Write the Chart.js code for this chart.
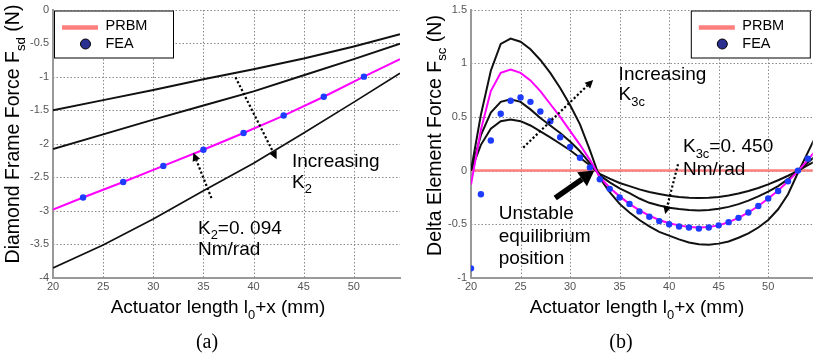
<!DOCTYPE html>
<html>
<head>
<meta charset="utf-8">
<script src="https://cdn.jsdelivr.net/npm/chart.js@4.4.1/dist/chart.umd.min.js"></script>
<style>
  html, body { margin: 0; padding: 0; background: #fff; }
  body { width: 816px; height: 359px; position: relative; overflow: hidden; }
  .panel { position: absolute; top: 0; width: 408px; height: 359px; }
  #panelA { left: 0; }
  #panelB { left: 408px; }
</style>
</head>
<body>
<div class="panel" id="panelA"><canvas id="chartA" width="408" height="359"></canvas></div>
<div class="panel" id="panelB"><canvas id="chartB" width="408" height="359"></canvas></div>
<script>
// (a) diamond frame force F_sd against actuator length, one line per K2
const lenA = [20, 25, 30, 35, 40, 45, 50, 54.6];
const fsdSoft = [-1.50, -1.35, -1.20, -1.04, -0.89, -0.73, -0.55, -0.37];
const fsdMid = [-2.08, -1.86, -1.64, -1.43, -1.22, -0.98, -0.74, -0.51];
const fsdStiff = [-3.85, -3.51, -3.12, -2.70, -2.29, -1.84, -1.38, -0.95];
const lenPrbmA = [20, 23, 27, 31, 35, 39, 43, 47, 51, 54.6];
const fsdPrbm = [-2.98, -2.80, -2.57, -2.33, -2.09, -1.84, -1.58, -1.30, -1.00, -0.74];
const lenFeaA = [23, 27, 31, 35, 39, 43, 47, 51];
const fsdFea = [-2.80, -2.57, -2.33, -2.09, -1.84, -1.58, -1.30, -1.00];
const xTicksA = [20, 25, 30, 35, 40, 45, 50];
const yTicksA = [0, -0.5, -1, -1.5, -2, -2.5, -3, -3.5, -4];

// (b) delta element force F_sc against actuator length, one curve per K3c
const lenB = [20, 21, 22, 23, 24, 25, 26, 27, 28, 29, 30, 31, 32, 33, 34, 35, 36, 37,
              38, 39, 40, 41, 42, 43, 44, 45, 46, 47, 48, 49, 50, 51, 52, 53, 54, 55];
const fscSoft = [0, 0.24, 0.39, 0.46, 0.475, 0.46, 0.42, 0.365, 0.31, 0.25, 0.19, 0.12, 0.05,
                 -0.03, -0.075, -0.115, -0.145, -0.175, -0.2, -0.218, -0.235, -0.245, -0.252, -0.255,
                 -0.252, -0.245, -0.232, -0.214, -0.19, -0.162, -0.128, -0.09, -0.048, -0.003, 0.05, 0.10];
const fscMid = [0, 0.33, 0.54, 0.64, 0.665, 0.64, 0.57, 0.49, 0.42, 0.35, 0.27, 0.18, 0.07,
                -0.045, -0.11, -0.165, -0.21, -0.26, -0.30, -0.325, -0.345, -0.357, -0.366, -0.371,
                -0.366, -0.356, -0.338, -0.312, -0.28, -0.24, -0.195, -0.145, -0.08, -0.005, 0.075, 0.155];
const fscPrbm = [-0.13, 0.38, 0.74, 0.91, 0.94, 0.91, 0.84, 0.74, 0.62, 0.50, 0.37, 0.24, 0.10,
                 -0.06, -0.16, -0.24, -0.31, -0.37, -0.42, -0.46, -0.49, -0.51, -0.525, -0.53,
                 -0.525, -0.51, -0.48, -0.44, -0.39, -0.33, -0.26, -0.185, -0.10, -0.005, 0.10, 0.21];
const fscStiff = [0, 0.52, 0.93, 1.18, 1.23, 1.20, 1.13, 1.03, 0.91, 0.77, 0.61, 0.43, 0.19,
                  -0.07, -0.20, -0.31, -0.39, -0.46, -0.52, -0.57, -0.605, -0.64, -0.67, -0.685,
                  -0.69, -0.68, -0.66, -0.625, -0.585, -0.53, -0.46, -0.36, -0.22, -0.02, 0.17, 0.36];
const lenFeaB = [20, 21, 22, 23, 24, 25, 26, 27, 28, 29, 30, 31, 32, 33, 34, 35, 36, 37,
                 38, 39, 40, 41, 42, 43, 44, 45, 46, 47, 48, 49, 50, 51, 52, 53, 54];
const fscFea = [-0.91, -0.22, 0.28, 0.53, 0.65, 0.68, 0.64, 0.55, 0.46, 0.31, 0.22, 0.12, 0.03,
                -0.08, -0.17, -0.25, -0.31, -0.38, -0.43, -0.47, -0.50, -0.52, -0.53, -0.54,
                -0.53, -0.51, -0.48, -0.44, -0.39, -0.33, -0.26, -0.19, -0.10, 0.00, 0.11];
const lenZero = [20, 55];
const fscZero = [0, 0];
const xTicksB = [20, 25, 30, 35, 40, 45, 50];
const yTicksB = [1.5, 1, 0.5, 0, -0.5, -1];

const SANS = '"Liberation Sans", Arial, Helvetica, sans-serif';
const SERIF = '"Liberation Serif", "Times New Roman", serif';

function pts(xs, ys) {
    return xs.map((x, i) => ({ x: x, y: ys[i] }));
}

function curve(xs, ys, color, width) {
    return { data: pts(xs, ys), showLine: true, borderColor: color, borderWidth: width,
             pointRadius: 0, pointHoverRadius: 0, tension: 0 };
}

function dots(xs, ys) {
    return { data: pts(xs, ys), showLine: false, pointRadius: 3.2, pointHoverRadius: 3.2,
             pointBackgroundColor: '#1d3cff', pointBorderWidth: 0 };
}

function axes(xMin, xMax, xTicks, yMin, yMax, yTicks, yWidth) {
    const grid = { display: false, drawTicks: false };
    const border = { display: true, color: '#999', width: 2 };
    const ticks = { color: '#555', font: { family: SANS, size: 11, lineHeight: 1 },
                    maxRotation: 0, autoSkip: false, callback: v => String(v) };
    return {
        x: {
            type: 'linear', min: xMin, max: xMax, grid, border,
            ticks: { ...ticks, padding: 3 },
            afterBuildTicks: s => { s.ticks = xTicks.map(v => ({ value: v })); },
            afterFit: s => { s.height = 81; }
        },
        y: {
            type: 'linear', min: yMin, max: yMax, grid, border,
            ticks: { ...ticks, padding: 4 },
            afterBuildTicks: s => { s.ticks = yTicks.map(v => ({ value: v })); },
            afterFit: s => { s.width = yWidth; }
        }
    };
}

// dotted grid at every tick; painted behind what is already on the canvas
function drawGrid(chart, xTicks, yTicks) {
    const { ctx, chartArea: a, scales: { x, y } } = chart;
    const top = Math.round(a.top), bottom = Math.round(a.bottom);
    const left = Math.round(a.left), right = Math.round(a.right);
    ctx.save();
    ctx.globalCompositeOperation = 'destination-over';
    ctx.strokeStyle = '#8a8a8a';
    ctx.lineWidth = 1;
    ctx.setLineDash([1.5, 2]);
    ctx.beginPath();
    xTicks.forEach(v => {
        const p = Math.round(x.getPixelForValue(v)) + 0.5;
        ctx.moveTo(p, top);
        ctx.lineTo(p, bottom);
    });
    yTicks.forEach(v => {
        const p = Math.round(y.getPixelForValue(v)) + 0.5;
        ctx.moveTo(left, p);
        ctx.lineTo(right, p);
    });
    ctx.stroke();
    ctx.restore();
}

// text with subscript runs: [['K', 0], ['2', 1]]
function drawRich(ctx, runs, x, y, size, align, family) {
    const fam = family || SANS;
    const widths = runs.map(([t, sub]) => {
        ctx.font = (sub ? size * 0.68 : size) + 'px ' + fam;
        return ctx.measureText(t).width;
    });
    const total = widths.reduce((a, b) => a + b, 0);
    let cx = align === 'center' ? x - total / 2 : x;
    ctx.textAlign = 'left';
    runs.forEach(([t, sub], i) => {
        ctx.font = (sub ? size * 0.68 : size) + 'px ' + fam;
        ctx.fillText(t, cx, sub ? y + size * 0.3 : y);
        cx += widths[i];
    });
}

function drawArrow(ctx, x1, y1, x2, y2, bold) {
    const ang = Math.atan2(y2 - y1, x2 - x1);
    const head = bold ? 15 : 8;
    const half = bold ? 8.5 : 4;
    const bx = x2 - head * Math.cos(ang);
    const by = y2 - head * Math.sin(ang);
    ctx.save();
    ctx.strokeStyle = '#000';
    ctx.fillStyle = '#000';
    ctx.lineWidth = bold ? 5.5 : 2.2;
    ctx.setLineDash(bold ? [] : [2.2, 2.2]);
    ctx.beginPath();
    ctx.moveTo(x1, y1);
    ctx.lineTo(bx, by);
    ctx.stroke();
    ctx.setLineDash([]);
    ctx.beginPath();
    ctx.moveTo(x2, y2);
    ctx.lineTo(bx + half * Math.sin(ang), by - half * Math.cos(ang));
    ctx.lineTo(bx - half * Math.sin(ang), by + half * Math.cos(ang));
    ctx.closePath();
    ctx.fill();
    ctx.restore();
}

function drawLegend(ctx, bx, by) {
    ctx.save();
    ctx.fillStyle = '#fff';
    ctx.fillRect(bx, by, 119, 47);
    ctx.strokeStyle = '#000';
    ctx.lineWidth = 1;
    ctx.strokeRect(bx + 0.5, by + 0.5, 119, 47);
    ctx.strokeStyle = '#ff7f7f';
    ctx.lineWidth = 4.5;
    ctx.beginPath();
    ctx.moveTo(bx + 8, by + 17);
    ctx.lineTo(bx + 44, by + 17);
    ctx.stroke();
    ctx.beginPath();
    ctx.arc(bx + 31.5, by + 33.5, 5, 0, Math.PI * 2);
    ctx.fillStyle = '#2b2f8f';
    ctx.fill();
    ctx.strokeStyle = '#000';
    ctx.lineWidth = 1;
    ctx.stroke();
    ctx.fillStyle = '#000';
    ctx.font = '14.5px ' + SANS;
    ctx.textAlign = 'left';
    ctx.textBaseline = 'middle';
    ctx.fillText('PRBM', bx + 51.5, by + 15.5);
    ctx.fillText('FEA', bx + 51.5, by + 33.5);
    ctx.restore();
}

// grid, annotations, legend and titles
function decor(spec) {
    return {
        id: 'decor',
        afterDraw(chart) {
            const { ctx, chartArea: a, scales: { x, y } } = chart;
            const px = v => x.getPixelForValue(v);
            const py = v => y.getPixelForValue(v);
            drawGrid(chart, spec.xTicks, spec.yTicks);
            ctx.save();
            ctx.fillStyle = '#000';
            ctx.textBaseline = 'alphabetic';
            spec.arrows.forEach(r => drawArrow(ctx, px(r.from[0]), py(r.from[1]), px(r.to[0]), py(r.to[1]), r.bold));
            spec.notes.forEach(n => drawRich(ctx, n.runs, px(n.at[0]), py(n.at[1]), 19, 'left'));
            drawLegend(ctx, spec.legendRight ? a.right - 122 : a.left + 1, a.top + 1);

            ctx.fillStyle = '#000';
            drawRich(ctx, spec.xTitle.runs, spec.xTitle.x, spec.xTitle.y, 19, 'center');
            drawRich(ctx, [[spec.panel.text, 0]], spec.panel.x, spec.panel.y, 20, 'center', SERIF);
            ctx.save();
            ctx.translate(spec.yTitle.x, spec.yTitle.y);
            ctx.rotate(-Math.PI / 2);
            drawRich(ctx, spec.yTitle.runs, 0, 0, 19.5, 'center');
            ctx.restore();
            ctx.restore();
        }
    };
}

const lengthTitle = [['Actuator length l', 0], ['0', 1], ['+x (mm)', 0]];

new Chart(document.getElementById('chartA'), {
    type: 'scatter',
    data: {
        datasets: [
            dots(lenFeaA, fsdFea),
            curve(lenPrbmA, fsdPrbm, '#ff00ff', 2),
            curve(lenA, fsdSoft, '#111', 2),
            curve(lenA, fsdMid, '#111', 2),
            curve(lenA, fsdStiff, '#111', 1.7)
        ]
    },
    options: {
        responsive: false,
        animation: false,
        events: [],
        layout: { padding: { top: 5, right: 8, left: 0, bottom: 0 } },
        scales: axes(20, 54.6, xTicksA, -4, 0, yTicksA, 53),
        plugins: { legend: { display: false }, tooltip: { enabled: false } }
    },
    plugins: [decor({
        xTicks: xTicksA,
        yTicks: yTicksA,
        legendRight: false,
        xTitle: { runs: lengthTitle, x: 218, y: 313 },
        yTitle: { runs: [['Diamond Frame Force F', 0], ['sd', 1], [' (N)', 0]], x: 19, y: 134 },
        panel: { text: '(a)', x: 207, y: 348 },
        notes: [
            { runs: [['Increasing', 0]], at: [43.83, -2.344] },
            { runs: [['K', 0], ['2', 1]], at: [43.83, -2.652] },
            { runs: [['K', 0], ['2', 1], ['=0. 094', 0]], at: [34.46, -3.34] },
            { runs: [['Nm/rad', 0]], at: [34.46, -3.663] }
        ],
        arrows: [
            { from: [38.2, -1.01], to: [42.3, -2.23] },
            { from: [35.8, -2.81], to: [34.0, -2.135] }
        ]
    })]
});

new Chart(document.getElementById('chartB'), {
    type: 'scatter',
    data: {
        datasets: [
            dots(lenFeaB, fscFea),
            curve(lenB, fscPrbm, '#ff00ff', 2),
            curve(lenB, fscSoft, '#111', 2),
            curve(lenB, fscMid, '#111', 2),
            curve(lenB, fscStiff, '#111', 2),
            curve(lenZero, fscZero, '#ff8080', 2.5)
        ]
    },
    options: {
        responsive: false,
        animation: false,
        events: [],
        layout: { padding: { top: 6, right: 0, left: 0, bottom: 0 } },
        scales: axes(20, 54.5, xTicksB, -1, 1.5, yTicksB, 63),
        plugins: { legend: { display: false }, tooltip: { enabled: false } }
    },
    plugins: [decor({
        xTicks: xTicksB,
        yTicks: yTicksB,
        legendRight: true,
        xTitle: { runs: lengthTitle, x: 229, y: 313 },
        yTitle: { runs: [['Delta Element Force F', 0], ['sc', 1], [' (N)', 0]], x: 32.5, y: 135.5 },
        panel: { text: '(b)', x: 213, y: 348 },
        notes: [
            { runs: [['Increasing', 0]], at: [34.9, 0.846] },
            { runs: [['K', 0], ['3c', 1]], at: [34.9, 0.653] },
            { runs: [['K', 0], ['3c', 1], ['=0. 450', 0]], at: [41.4, 0.175] },
            { runs: [['Nm/rad', 0]], at: [41.4, -0.037] },
            { runs: [['Unstable', 0]], at: [22.8, -0.451] },
            { runs: [['equilibrium', 0]], at: [22.8, -0.667] },
            { runs: [['position', 0]], at: [22.8, -0.874] }
        ],
        arrows: [
            { from: [25.27, 0.214], to: [32.33, 0.844] },
            { from: [40.9, 0.06], to: [39.6, -0.405] },
            { from: [28.5, -0.255], to: [32.45, 0.0], bold: true }
        ]
    })]
});
</script>
</body>
</html>
